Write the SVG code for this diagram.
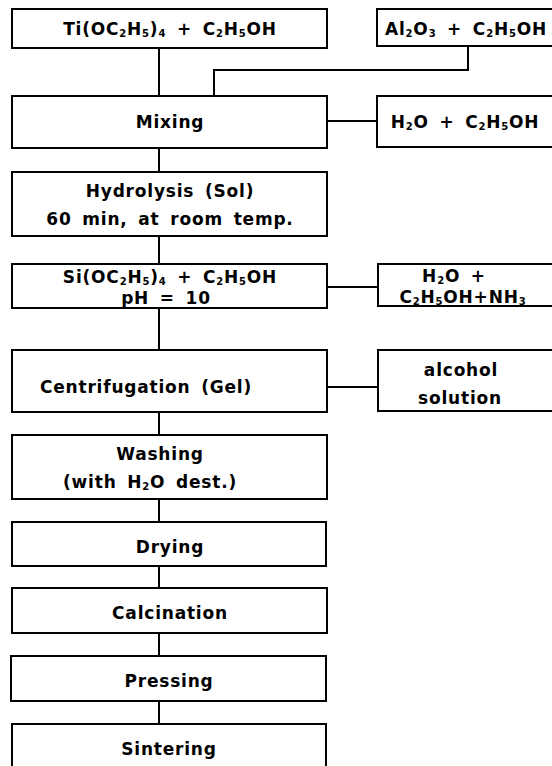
<svg xmlns="http://www.w3.org/2000/svg" width="552" height="766" viewBox="0 0 552 766">
<style>
.box{fill:#fff;stroke:#000;stroke-width:2}
.t{font-family:"DejaVu Sans","Liberation Sans",sans-serif;font-weight:bold;font-size:17px;letter-spacing:0.8px;word-spacing:4px;fill:#000;text-anchor:middle}
.s{font-size:10px}
.c{fill:none;stroke:#000;stroke-width:2}
</style>
<rect width="552" height="766" fill="#fff"/>
<g id="connectors">
<path class="c" d="M159 48V96"/>
<path class="c" d="M468 46V70H214V96"/>
<path class="c" d="M327 121H377"/>
<path class="c" d="M159 148V172"/>
<path class="c" d="M159 236V264"/>
<path class="c" d="M327 287H378"/>
<path class="c" d="M159 308V350"/>
<path class="c" d="M327 387H378"/>
<path class="c" d="M159 412V435"/>
<path class="c" d="M159 499V522"/>
<path class="c" d="M159 566V588"/>
<path class="c" d="M159 633V656"/>
<path class="c" d="M159 701V724"/>
</g>
<g id="ti">
<rect class="box" x="12" y="9" width="315" height="39"/>
<text class="t" x="170" y="35">Ti(OC<tspan class="s" baseline-shift="-2">2</tspan>H<tspan class="s" baseline-shift="-2">5</tspan>)<tspan class="s" baseline-shift="-2">4</tspan> + C<tspan class="s" baseline-shift="-2">2</tspan>H<tspan class="s" baseline-shift="-2">5</tspan>OH</text>
</g>
<g id="al2o3">
<rect class="box" x="377" y="9" width="190" height="37"/>
<text class="t" x="466" y="35">Al<tspan class="s" baseline-shift="-2">2</tspan>O<tspan class="s" baseline-shift="-2">3</tspan> + C<tspan class="s" baseline-shift="-2">2</tspan>H<tspan class="s" baseline-shift="-2">5</tspan>OH</text>
</g>
<g id="mixing">
<rect class="box" x="12" y="96" width="315" height="52"/>
<text class="t" x="170" y="128">Mixing</text>
</g>
<g id="h2o-ethanol">
<rect class="box" x="377" y="96" width="190" height="51"/>
<text class="t" x="465" y="128">H<tspan class="s" baseline-shift="-2">2</tspan>O + C<tspan class="s" baseline-shift="-2">2</tspan>H<tspan class="s" baseline-shift="-2">5</tspan>OH</text>
</g>
<g id="hydrolysis">
<rect class="box" x="12" y="172" width="315" height="64"/>
<text class="t" x="170" y="197">Hydrolysis (Sol)</text>
<text class="t" x="170" y="225">60 min, at room temp.</text>
</g>
<g id="si">
<rect class="box" x="12" y="264" width="315" height="44"/>
<text class="t" x="170" y="283">Si(OC<tspan class="s" baseline-shift="-2">2</tspan>H<tspan class="s" baseline-shift="-2">5</tspan>)<tspan class="s" baseline-shift="-2">4</tspan> + C<tspan class="s" baseline-shift="-2">2</tspan>H<tspan class="s" baseline-shift="-2">5</tspan>OH</text>
<text class="t" x="166" y="304">pH = 10</text>
</g>
<g id="ammonia">
<rect class="box" x="378" y="264" width="190" height="42"/>
<text class="t" x="454" y="282">H<tspan class="s" baseline-shift="-2">2</tspan>O +</text>
<text class="t" x="463" y="303">C<tspan class="s" baseline-shift="-2">2</tspan>H<tspan class="s" baseline-shift="-2">5</tspan>OH+NH<tspan class="s" baseline-shift="-2">3</tspan></text>
</g>
<g id="centrifugation">
<rect class="box" x="12" y="350" width="315" height="62"/>
<text class="t" x="146" y="393">Centrifugation (Gel)</text>
</g>
<g id="alcohol">
<rect class="box" x="378" y="350" width="190" height="61"/>
<text class="t" x="461" y="376">alcohol</text>
<text class="t" x="460" y="404">solution</text>
</g>
<g id="washing">
<rect class="box" x="12" y="435" width="315" height="64"/>
<text class="t" x="160" y="460">Washing</text>
<text class="t" x="150" y="488">(with H<tspan class="s" baseline-shift="-2">2</tspan>O dest.)</text>
</g>
<g id="drying">
<rect class="box" x="12" y="522" width="314" height="44"/>
<text class="t" x="170" y="553">Drying</text>
</g>
<g id="calcination">
<rect class="box" x="12" y="588" width="315" height="45"/>
<text class="t" x="170" y="619">Calcination</text>
</g>
<g id="pressing">
<rect class="box" x="11" y="656" width="315" height="45"/>
<text class="t" x="169" y="687">Pressing</text>
</g>
<g id="sintering">
<rect class="box" x="12" y="724" width="314" height="50"/>
<text class="t" x="169" y="755">Sintering</text>
</g>
</svg>
